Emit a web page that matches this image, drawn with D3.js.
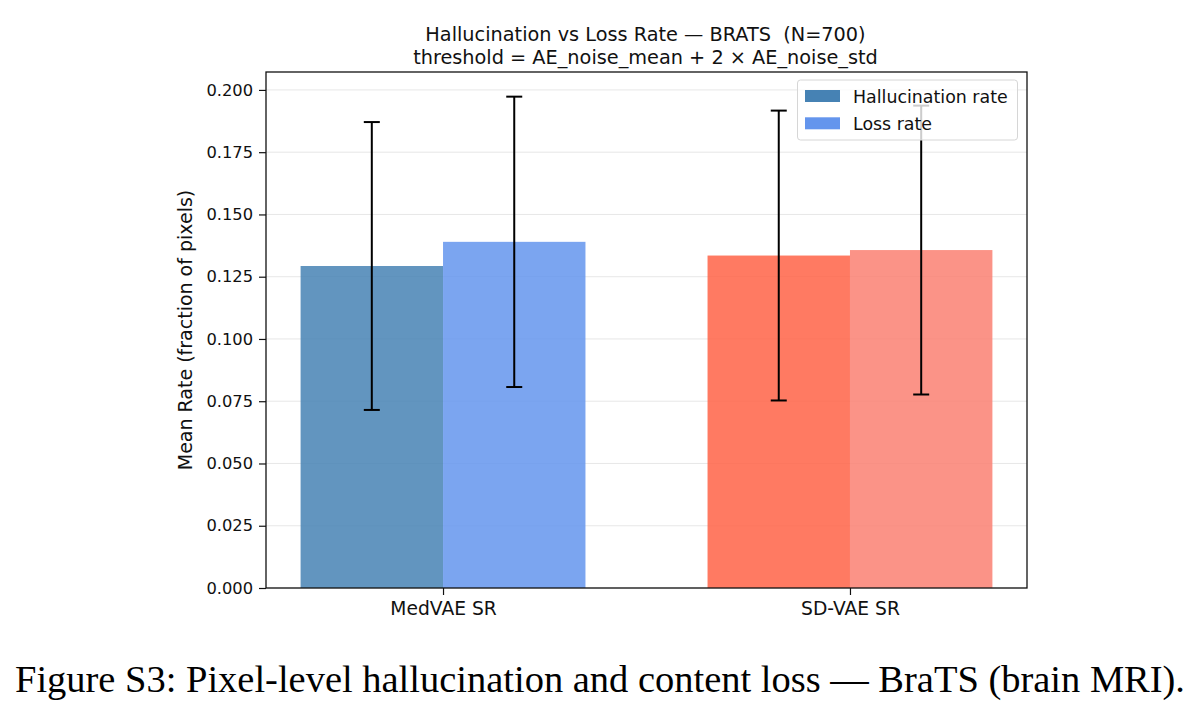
<!DOCTYPE html>
<html><head><meta charset="utf-8">
<script src="https://cdn.jsdelivr.net/npm/d3@7"></script>
<style>body{margin:0;background:#fff}</style>
</head><body>
<svg id="c" width="1203" height="715"></svg>
<script>
const categories = ["MedVAE SR", "SD-VAE SR"];
const seriesNames = ["Hallucination rate", "Loss rate"];
const hallucMean = [0.1293, 0.1335];
const hallucStd  = [0.0578, 0.0582];
const lossMean   = [0.1390, 0.1357];
const lossStd    = [0.0583, 0.0580];
const yTicks = [0, 0.025, 0.05, 0.075, 0.1, 0.125, 0.15, 0.175, 0.2];
const barColors = [["#4682B4", "#6495ED"], ["#FF6347", "#FA8072"]];

const svg = d3.select("#c");
const L = 266, R = 1027, T = 72, B = 588;
const x = d3.scaleLinear().domain([-0.435, 1.435]).range([L, R]);
const y = d3.scaleLinear().domain([0, 0.2072]).range([B, T]);
const bw = 0.35;
const font = "DejaVu Sans";

// grid
svg.append("g").selectAll("line").data(yTicks).join("line")
  .attr("x1", L).attr("x2", R).attr("y1", d => y(d)).attr("y2", d => y(d))
  .attr("stroke", "#b0b0b0").attr("stroke-opacity", 0.3).attr("stroke-width", 1);

const bars = [];
categories.forEach((c, i) => {
  bars.push({i, s: 0, x: i - bw/2, v: hallucMean[i], e: hallucStd[i], col: barColors[i][0]});
  bars.push({i, s: 1, x: i + bw/2, v: lossMean[i], e: lossStd[i], col: barColors[i][1]});
});

svg.append("g").selectAll("rect").data(bars).join("rect")
  .attr("x", d => x(d.x - bw/2)).attr("width", d => x(d.x + bw/2) - x(d.x - bw/2))
  .attr("y", d => y(d.v)).attr("height", d => y(0) - y(d.v))
  .attr("fill", d => d.col).attr("fill-opacity", 0.85);

// error bars
const eg = svg.append("g").attr("stroke", "#000").attr("stroke-width", 2);
bars.forEach(d => {
  const cx = x(d.x);
  eg.append("line").attr("x1", cx).attr("x2", cx).attr("y1", y(d.v - d.e)).attr("y2", y(d.v + d.e));
  [d.v - d.e, d.v + d.e].forEach(v => {
    eg.append("line").attr("x1", cx - 8).attr("x2", cx + 8).attr("y1", y(v)).attr("y2", y(v));
  });
});

// axes
const yAxis = d3.axisLeft(y).tickValues(yTicks).tickFormat(d3.format(".3f")).tickSizeOuter(0).tickSize(7).tickPadding(6);
const gy = svg.append("g").attr("transform", `translate(${L},0)`).call(yAxis);
gy.select(".domain").remove();
gy.selectAll("text").attr("font-family", font).attr("font-size", 16.3).attr("fill", "#111");
gy.selectAll("line").attr("stroke", "#111").attr("stroke-width", 1.2);

const xAxis = d3.axisBottom(x).tickValues([0, 1]).tickFormat(d => categories[d]).tickSizeOuter(0).tickSize(7).tickPadding(7);
const gx = svg.append("g").attr("transform", `translate(0,${B})`).call(xAxis);
gx.select(".domain").remove();
gx.selectAll("text").attr("font-family", font).attr("font-size", 18.7).attr("fill", "#111");
gx.selectAll("line").attr("stroke", "#111").attr("stroke-width", 1.2);

svg.append("rect").attr("x", L).attr("y", T).attr("width", R - L).attr("height", B - T)
  .attr("fill", "none").attr("stroke", "#111").attr("stroke-width", 1.3);

// y label
svg.append("text").attr("transform", `translate(192,${(T+B)/2}) rotate(-90)`)
  .attr("text-anchor", "middle").attr("font-family", font).attr("font-size", 19).attr("fill", "#111")
  .text("Mean Rate (fraction of pixels)");

// title
const tx = (L + R) / 2 - 1;
svg.append("text").attr("x", tx).attr("y", 40.5).attr("text-anchor", "middle").attr("font-family", font)
  .attr("font-size", 19.3).attr("fill", "#111").text("Hallucination vs Loss Rate \u2014 BRATS\u00a0 (N=700)");
svg.append("text").attr("x", tx).attr("y", 63.5).attr("text-anchor", "middle").attr("font-family", font)
  .attr("font-size", 19.3).attr("fill", "#111").text("threshold = AE_noise_mean + 2 \u00d7 AE_noise_std");

// legend
const lg = svg.append("g");
lg.append("rect").attr("x", 797.5).attr("y", 80).attr("width", 220).attr("height", 60).attr("rx", 3)
  .attr("fill", "#fff").attr("fill-opacity", 0.8).attr("stroke", "#d6d6d6");
seriesNames.forEach((n, k) => {
  const yy = 96 + k * 27.3;
  lg.append("rect").attr("x", 805).attr("y", yy - 6).attr("width", 35).attr("height", 12)
    .attr("fill", barColors[0][k]);
  lg.append("text").attr("x", 853).attr("y", yy + 7).attr("font-family", font).attr("font-size", 17.4)
    .attr("fill", "#111").text(n);
});

// caption
svg.append("text").attr("x", 15).attr("y", 692)
  .attr("font-family", "Liberation Serif").attr("font-size", 38).attr("fill", "#000")
  .attr("textLength", 1170).attr("lengthAdjust", "spacingAndGlyphs")
  .text("Figure S3: Pixel-level hallucination and content loss \u2014 BraTS (brain MRI).");
</script>
</body></html>
